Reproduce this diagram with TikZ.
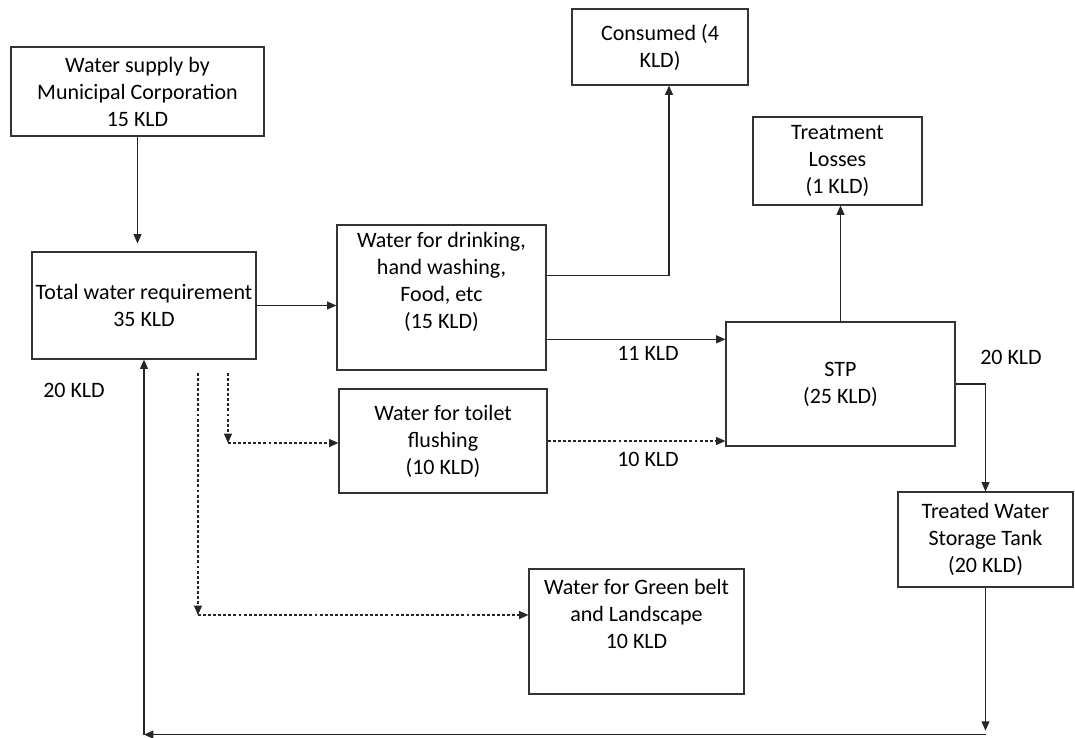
\documentclass[tikz,border=0pt]{standalone}
\usepackage{fontspec}
\setmainfont{Carlito}
\usetikzlibrary{calc,positioning,arrows.meta}

\begin{document}
\begin{tikzpicture}[x=0.75pt,y=-0.75pt,
    box/.style={draw=black!80,line width=0.9pt,align=center,inner sep=0pt,
                font=\fontsize{16.5}{20.25}\selectfont},
    flow/.style={draw=black!85,line width=0.9pt,-{Triangle[length=7pt,width=6pt]}},
    dotflow/.style={flow,dash pattern=on 2.2pt off 1.6pt},
    qty/.style={inner sep=0pt,font=\fontsize{16.5}{20.25}\selectfont}]
    \useasboundingbox (0,0) rectangle (1075,738);
    % \draw[color=gray,step=50,help lines,opacity=0.3] (0,0) grid (1075,738); %help grid
    \node[box,minimum width=189.75pt,minimum height=66.75pt] (supply) at (137.5,91.5) {Water supply by\\Municipal Corporation\\15 KLD};
    \node[box,minimum width=168pt,minimum height=80.25pt] (total) at (144,305.5) {Total water requirement\\35 KLD};
    \node[box,minimum width=156.75pt,minimum height=108.75pt] (drink) at (441.5,297.5) {Water for drinking,\\hand washing,\\Food, etc\\(15 KLD)\\ \strut};
    \node[box,minimum width=132pt,minimum height=57pt] (consumed) at (660,47) {Consumed (4\\KLD)};
    \node[box,minimum width=126.75pt,minimum height=66pt] (losses) at (837.5,161) {Treatment\\Losses\\(1 KLD)};
    \node[box,minimum width=156pt,minimum height=78pt] (toilet) at (443,441) {Water for toilet\\flushing\\(10 KLD)};
    \node[box,minimum width=171.75pt,minimum height=93pt] (stp) at (840.5,384) {STP\\(25 KLD)};
    \node[box,minimum width=131.25pt,minimum height=71.25pt] (tank) at (985.5,539.5) {Treated Water\\Storage Tank\\(20 KLD)};
    \node[box,minimum width=161.25pt,minimum height=93.75pt] (green) at (636.5,631.5) {Water for Green belt\\and Landscape\\10 KLD\\ \strut};
    % quantities on the flows
    \node[qty] (q20l) at (74,390) {20 KLD};
    \node[qty] (q11) at (648,353) {11 KLD};
    \node[qty] (q10) at (648,459) {10 KLD};
    \node[qty] (q20r) at (1011,357) {20 KLD};
    % helper points
    \coordinate (d4) at ($(drink.north east)!0.35!(drink.south east)$);
    \coordinate (d11) at ($(drink.north east)!0.786!(drink.south east)$);
    \coordinate (rb) at ($(tank.south)+(0,147)$);
    \coordinate (lb) at (total.south |- rb);
    \coordinate (g1) at (198,373);
    \coordinate (g2) at (198,615);
    \coordinate (t1) at (228,373);
    \coordinate (t2) at (228,443);
    % flows
    \draw[flow,shorten >=6pt] (supply.south) -- (supply.south |- total.north);
    \draw[flow] (total.east) -- (total.east -| drink.west);
    \draw[flow] (d4) -| ([xshift=6.75pt]consumed.south);
    \draw[flow] (d11) -- (d11 -| stp.west);
    \draw[dotflow] (toilet.east) -- (toilet.east -| stp.west);
    \draw[flow] (stp.north) -- (stp.north |- losses.south);
    \draw[flow] (stp.east) -| (tank.north);
    \draw[flow,shorten >=3pt] (tank.south) -- (rb);
    \draw[flow] (rb) -- (lb);
    \draw[flow] (lb) -- (total.south);
    \draw[dotflow] (t1) -- (t2);
    \draw[dotflow] (t2) -- (t2 -| toilet.west);
    \draw[dotflow] (g1) -- (g2);
    \draw[dotflow] (g2) -- (g2 -| green.west);
\end{tikzpicture}
\end{document}
